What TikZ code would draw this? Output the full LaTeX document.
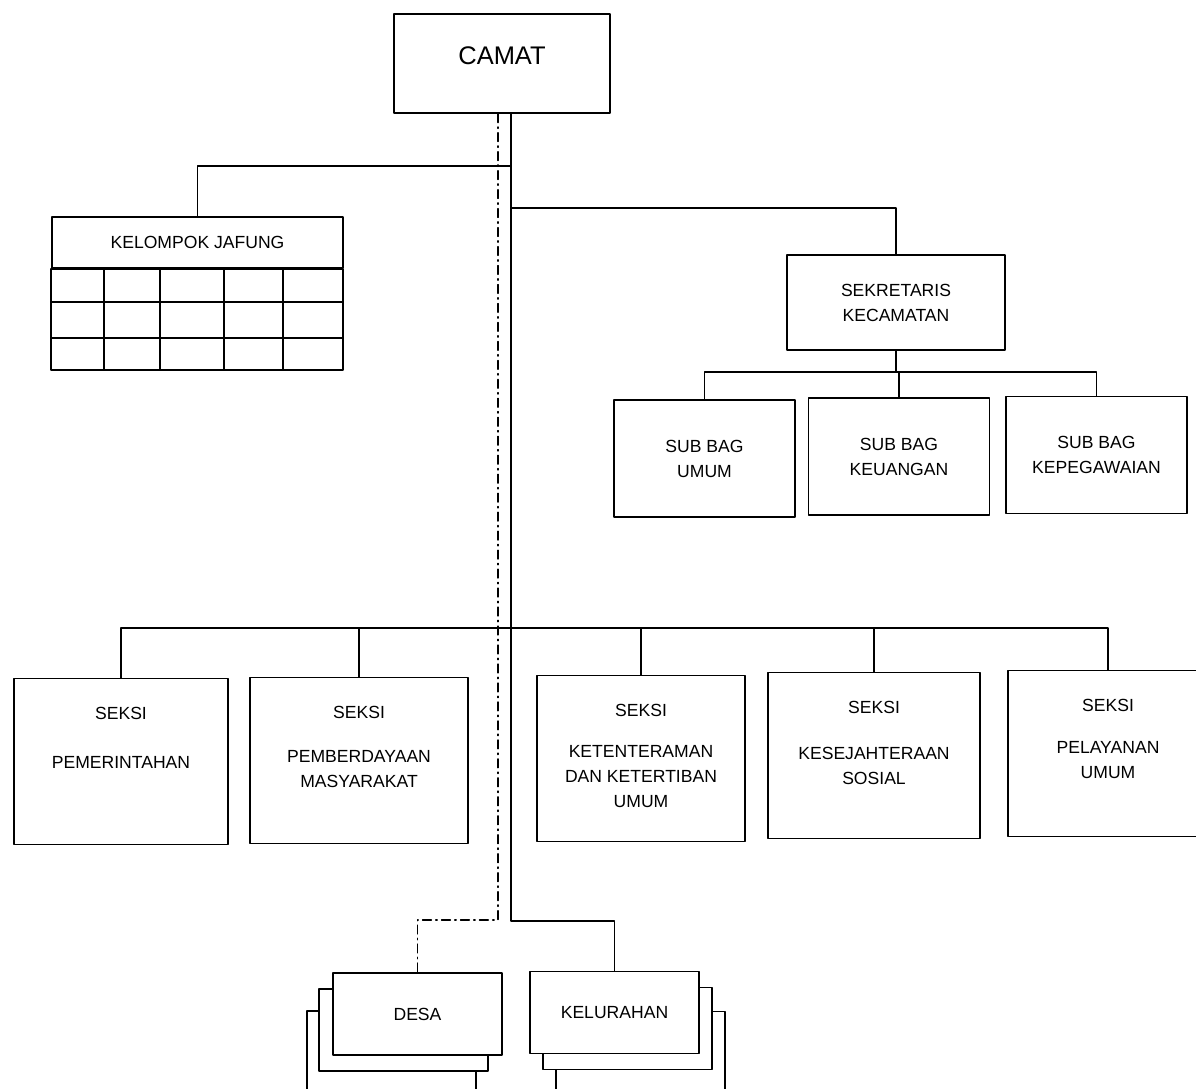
\documentclass[tikz,border=0pt]{standalone}
\usepackage{fontspec}
\setmainfont{Liberation Sans}
\usetikzlibrary{calc}
\tikzset{
  line thick/.store in=\LineThick,
  line thick=0.9pt,
  box/.style={draw, line width=\LineThick, fill=white, inner sep=0pt,
    align=center, font=\fontsize{10}{14.2}\selectfont},
  seksibox/.style={box, minimum height=3.32cm},
  subbox/.style={box, minimum width=3.62cm, minimum height=2.34cm},
  stackbox/.style={box, minimum width=3.38cm, minimum height=1.64cm},
  seksitxt/.style={anchor=north, inner sep=0pt, align=center,
    font=\fontsize{10}{14.2}\selectfont, yshift=-0.58cm},
  link/.style={line width=\LineThick},
  dotlink/.style={line width=0.8pt, dash pattern=on 5pt off 2.5pt on 0.8pt off 2.5pt}
}

\begin{document}
\begin{tikzpicture}[x=0.02cm, y=-0.02cm, line cap=round, line join=round]

  \useasboundingbox (0,0) rectangle (1196,1088);

  % top
  \node[box, minimum width=4.32cm, minimum height=1.98cm,
    font=\fontsize{14.5}{17}\selectfont, text depth=8.6pt] (camat) at (502,63.5) {CAMAT};

  % kelompok jafung
  \node[box, minimum width=5.82cm, minimum height=1.02cm] (jafung) at (197.5,242.5) {KELOMPOK JAFUNG};
  \draw[link] (jafung.south west) rectangle (343,370);
  \foreach \cx in {104,160,224,283}
    \draw[link] (\cx,268) -- (\cx,370);
  \foreach \ry in {302,338}
    \draw[link] (52,\ry) -- (343,\ry);

  % sekretariat
  \node[box, minimum width=4.36cm, minimum height=1.9cm] (sekre) at (896,302.5) {SEKRETARIS\\KECAMATAN};
  \node[subbox] (umum) at (704.5,458.5) {SUB BAG\\UMUM};
  \node[subbox] (keu)  at (899,456.5)   {SUB BAG\\KEUANGAN};
  \node[subbox] (peg)  at (1096.5,455)  {SUB BAG\\KEPEGAWAIAN};

  % seksi
  \node[seksibox, minimum width=4.28cm] (pem)   at (121,761.5) {};
  \node[seksibox, minimum width=4.36cm] (pemb)  at (359,760.5) {};
  \node[seksibox, minimum width=4.16cm] (tib)   at (641,758.5) {};
  \node[seksibox, minimum width=4.24cm] (sos)   at (874,755.5) {};
  \node[seksibox, minimum width=4.00cm] (pelay) at (1108,753.5) {};

  \node[seksitxt] (pemT)   at (pem.north)   {SEKSI\\[13.5pt]PEMERINTAHAN};
  \node[seksitxt] (pembT)  at (pemb.north)  {SEKSI\\[11pt]PEMBERDAYAAN\\MASYARAKAT};
  \node[seksitxt] (tibT)   at (tib.north)   {SEKSI\\[9pt]KETENTERAMAN\\DAN KETERTIBAN\\UMUM};
  \node[seksitxt] (sosT)   at (sos.north)   {SEKSI\\[12pt]KESEJAHTERAAN\\SOSIAL};
  \node[seksitxt] (pelayT) at (pelay.north) {SEKSI\\[10pt]PELAYANAN\\UMUM};

  % desa / kelurahan stacks
  \coordinate (D) at (417.5,1014);
  \coordinate (K) at (614.5,1012.5);
  \node[stackbox] (desa3) at ($(D)+(-26,38)$) {};
  \node[stackbox] (desa2) at ($(D)+(-14,16)$) {};
  \node[stackbox] (desa)  at (D) {DESA};
  \node[stackbox] (kel3)  at ($(K)+(26,40)$) {};
  \node[stackbox] (kel2)  at ($(K)+(13,16)$) {};
  \node[stackbox] (kel)   at (K) {KELURAHAN};

  % bus lines
  \coordinate (busB) at (0,372);
  \coordinate (busS) at (0,628);

  \draw[link] (camat.south -| 511,0) -- (511,921) -| (kel.north);
  \draw[dotlink] (camat.south -| 498,0) -- (498,920) -| (desa.north);
  \draw[link] (511,166) -| (jafung.north);
  \draw[link] (511,208) -| (sekre.north);

  \draw[link] (sekre.south) -- (sekre.south |- busB);
  \draw[link] (umum.north) |- (peg.north |- busB) -- (peg.north);
  \draw[link] (keu.north) -- (keu.north |- busB);

  \draw[link] (pem.north) |- (pelay.north |- busS) -- (pelay.north);
  \foreach \s in {pemb,tib,sos}
    \draw[link] (\s.north) -- (\s.north |- busS);

\end{tikzpicture}
\end{document}
